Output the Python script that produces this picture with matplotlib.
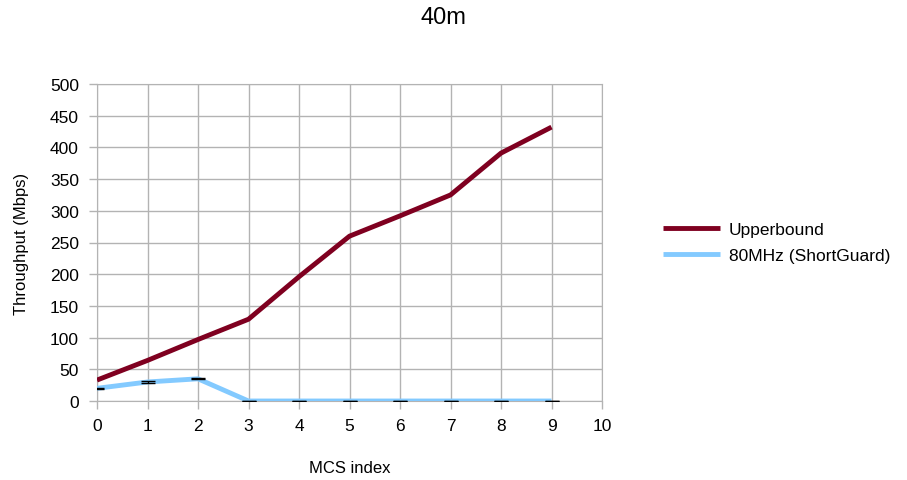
import matplotlib
matplotlib.use("Agg")
import matplotlib.pyplot as plt

plt.rcParams['font.family'] = ['Liberation Sans', 'DejaVu Sans']

mcs = [0, 1, 2, 3, 4, 5, 6, 7, 8, 9]
upperbound = [33, 64, 97, 129, 196, 260, 292, 325, 391, 432]
short_guard = [20, 30, 35, 0, 0, 0, 0, 0, 0, 0]
short_guard_err = [0.5, 1.2, 0.5, 0.3, 0.3, 0.3, 0.3, 0.3, 0.3, 0.3]
yticks = [0, 50, 100, 150, 200, 250, 300, 350, 400, 450, 500]
xticks = [0, 1, 2, 3, 4, 5, 6, 7, 8, 9, 10]

fig = plt.figure(figsize=(9.07, 4.81), dpi=100)
ax = fig.add_axes([97/907, 1-402/481, 505/907, 317/481])

ax.plot(mcs, upperbound, color='#7f0020', lw=3.5, label='Upperbound', zorder=3,
        solid_joinstyle='round', solid_capstyle='butt')
ax.plot(mcs, short_guard, color='#83caff', lw=3.5, label='80MHz (ShortGuard)', zorder=3,
        solid_joinstyle='round', solid_capstyle='butt')
ax.errorbar(mcs, short_guard, yerr=short_guard_err, fmt='none', ecolor='black',
            elinewidth=1, capsize=5, capthick=1, zorder=4)

ax.set_xlim(0, 10)
ax.set_ylim(0, 500)
ax.set_xticks(xticks)
ax.set_yticks(yticks)
ax.grid(True, color='#b3b3b3', lw=1)
ax.set_axisbelow(True)
for s in ax.spines.values():
    s.set_color('#b3b3b3')
ax.tick_params(axis='both', colors='#b3b3b3', labelcolor='black', labelsize=12.5,
               length=6, width=1, direction='out')
ax.tick_params(axis='x', pad=6)
ax.tick_params(axis='y', pad=7)
ax.set_xlabel('MCS index', fontsize=12, labelpad=20)
ax.set_ylabel('Throughput (Mbps)', fontsize=12, labelpad=15)
fig.suptitle('40m', fontsize=17, x=443/907, y=0.985)

ax.legend(loc='center left', bbox_to_anchor=(1.09, 0.5), frameon=False, fontsize=12.5,
          handlelength=3.3, handletextpad=0.5, labelspacing=0.65)

fig.savefig('out.png', dpi=100)
